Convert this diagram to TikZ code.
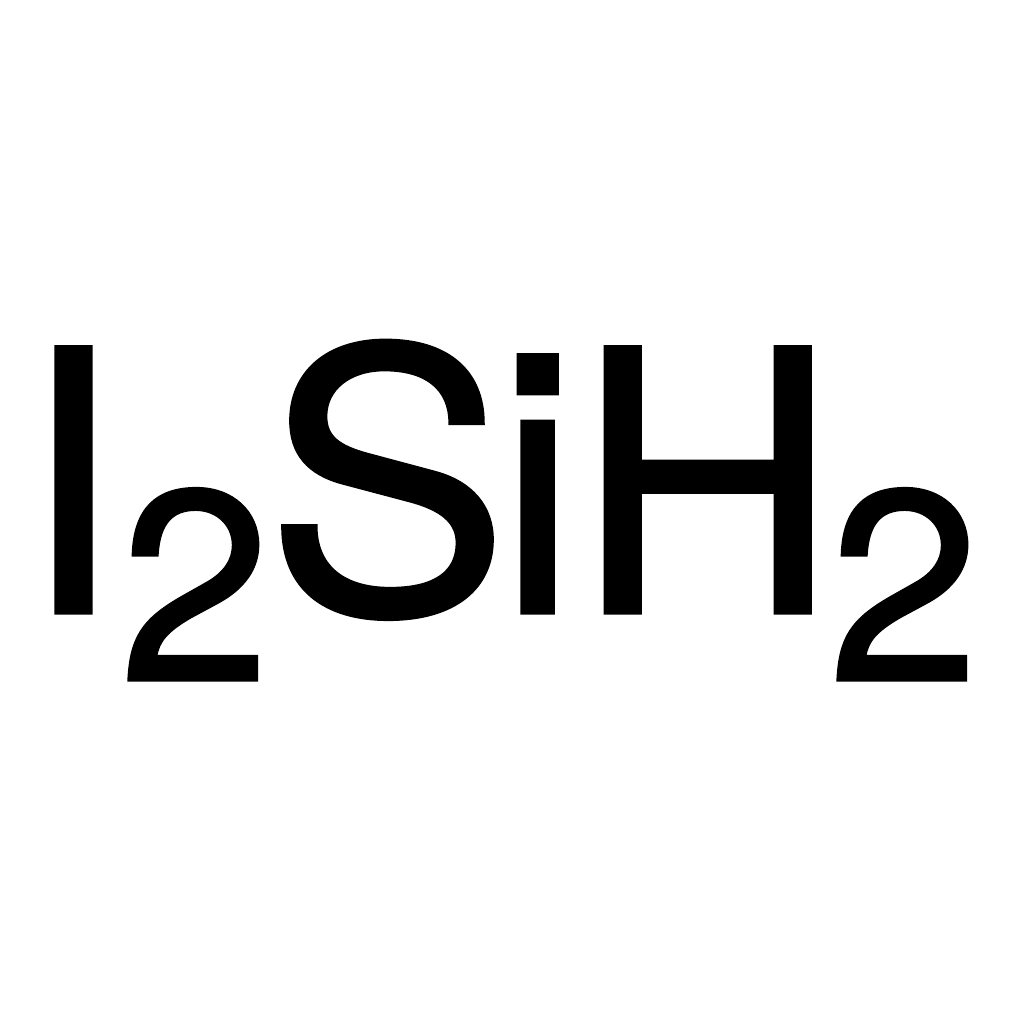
\documentclass[tikz,border=0pt]{standalone}
\usepackage{fontspec}
\setmainfont{TeX Gyre Heros}
\newfontfamily\heavyfont{TeX Gyre Heros}[FakeBold=1.2]
\newcommand{\subtwo}{\raisebox{-0.66cm}{\fontsize{75}{75}\heavyfont 2}}
\begin{document}
\begin{tikzpicture}
\useasboundingbox (0,0) rectangle (10,10);
\node[anchor=base west, inner sep=0pt, font=\fontsize{101}{101}\heavyfont] (formula) at (0.19,4.02)
  {I\kern-0.4pt\subtwo\kern-1.1pt S\kern-3.2pt i\kern-0.6pt H\kern-2.5pt\subtwo};
\end{tikzpicture}
\end{document}
